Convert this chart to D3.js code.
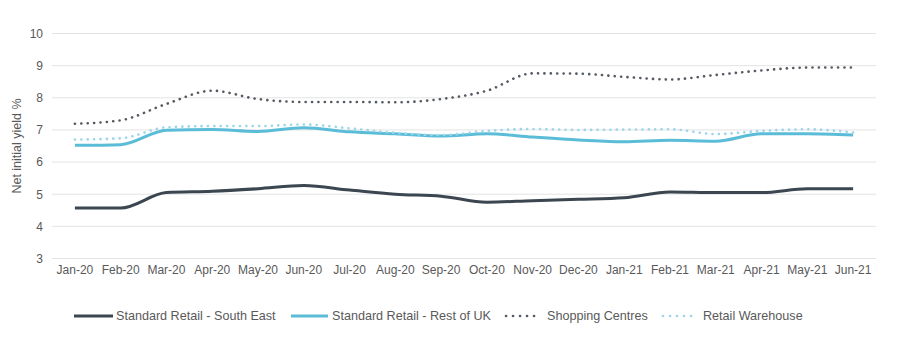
<!DOCTYPE html>
<html>
<head>
<meta charset="utf-8">
<script src="https://cdn.jsdelivr.net/npm/d3@7/dist/d3.min.js"></script>
<style>
  body { margin: 0; background: #fff; }
  svg { display: block; font-family: "Liberation Sans", Arial, sans-serif; }
</style>
</head>
<body>
<svg id="chart" width="900" height="341"></svg>
<script>
// Monthly net initial yields, %
const months = ["Jan-20","Feb-20","Mar-20","Apr-20","May-20","Jun-20","Jul-20","Aug-20","Sep-20",
                "Oct-20","Nov-20","Dec-20","Jan-21","Feb-21","Mar-21","Apr-21","May-21","Jun-21"];
const southEast      = [4.57,4.57,5.05,5.09,5.17,5.27,5.13,5.00,4.94,4.75,4.80,4.84,4.89,5.07,5.05,5.05,5.17,5.17];
const restOfUK       = [6.52,6.54,6.99,7.01,6.95,7.07,6.94,6.88,6.81,6.88,6.78,6.69,6.63,6.68,6.65,6.88,6.88,6.84];
const shoppingCentres= [7.19,7.30,7.81,8.22,7.96,7.87,7.87,7.86,7.96,8.22,8.76,8.75,8.65,8.57,8.71,8.85,8.94,8.94];
const retailWarehouse= [6.70,6.74,7.08,7.12,7.12,7.17,7.05,6.91,6.84,6.97,7.03,7.00,7.01,7.02,6.87,6.97,7.02,6.92];
const yTicks = [3,4,5,6,7,8,9,10];

const series = [
  { name: "Standard Retail - South East", values: southEast,       color: "#3b4650", width: 3,   dash: null },
  { name: "Standard Retail - Rest of UK", values: restOfUK,        color: "#5bbcd8", width: 3,   dash: null },
  { name: "Shopping Centres",             values: shoppingCentres, color: "#555b61", width: 2.6, dash: "0.1 6.3" },
  { name: "Retail Warehouse",             values: retailWarehouse, color: "#9dd6ea", width: 2.6, dash: "0.1 6.3" }
];

const svg = d3.select("#chart");
const margin = { left: 52, right: 24, top: 33.5, bottom: 82.5 };
const W = 900, H = 341;
const textColor = "#595959";

const x = d3.scaleBand().domain(months).range([margin.left, W - margin.right]);
const y = d3.scaleLinear().domain([3, 10]).range([H - margin.bottom, margin.top]);
const cx = m => x(m) + x.bandwidth() / 2;

// Horizontal gridlines
svg.append("g")
  .selectAll("line")
  .data(yTicks)
  .join("line")
  .attr("x1", margin.left).attr("x2", W - margin.right)
  .attr("y1", d => y(d)).attr("y2", d => y(d))
  .attr("stroke", "#e3e3e3").attr("stroke-width", 1);

// Y axis labels
const yAxis = svg.append("g")
  .attr("transform", `translate(${margin.left},0)`)
  .call(d3.axisLeft(y).tickValues(yTicks).tickFormat(d3.format("d")).tickSize(0).tickPadding(9));
yAxis.select(".domain").remove();
yAxis.selectAll("text").attr("fill", textColor).style("font-size", "12px");

// X axis labels
const xAxis = svg.append("g")
  .attr("transform", `translate(0,${H - margin.bottom})`)
  .call(d3.axisBottom(x).tickSize(0).tickPadding(7));
xAxis.select(".domain").remove();
xAxis.selectAll("text").attr("fill", textColor).style("font-size", "12px");

// Y axis title
svg.append("text")
  .attr("transform", `translate(21,${(margin.top + H - margin.bottom) / 2}) rotate(-90)`)
  .attr("text-anchor", "middle")
  .attr("fill", textColor)
  .style("font-size", "12.5px")
  .text("Net initial yield %");

// Lines
const line = d3.line()
  .x((d, i) => cx(months[i]))
  .y(d => y(d))
  .curve(d3.curveMonotoneX);

svg.append("g")
  .selectAll("path")
  .data(series)
  .join("path")
  .attr("d", d => line(d.values))
  .attr("fill", "none")
  .attr("stroke", d => d.color)
  .attr("stroke-width", d => d.width)
  .attr("stroke-linecap", d => d.dash ? "round" : "butt")
  .attr("stroke-linejoin", "round")
  .attr("stroke-dasharray", d => d.dash);

// Legend: swatch start, swatch end, label start
const legendY = 316;
const legendPos = [
  { x1: 74,  x2: 113, tx: 116 },
  { x1: 291, x2: 328, tx: 332 },
  { x1: 506, x2: 541, tx: 547 },
  { x1: 663, x2: 698, tx: 703 }
];
const legend = svg.append("g");
series.forEach((s, i) => {
  const p = legendPos[i];
  legend.append("line")
    .attr("x1", p.x1).attr("x2", p.x2)
    .attr("y1", legendY).attr("y2", legendY)
    .attr("stroke", s.color)
    .attr("stroke-width", s.width)
    .attr("stroke-linecap", s.dash ? "round" : "butt")
    .attr("stroke-dasharray", s.dash ? "0.1 6.9" : null);
  legend.append("text")
    .attr("x", p.tx).attr("y", legendY)
    .attr("dy", "0.35em")
    .attr("fill", textColor)
    .style("font-size", "12.6px")
    .text(s.name);
});
</script>
</body>
</html>
